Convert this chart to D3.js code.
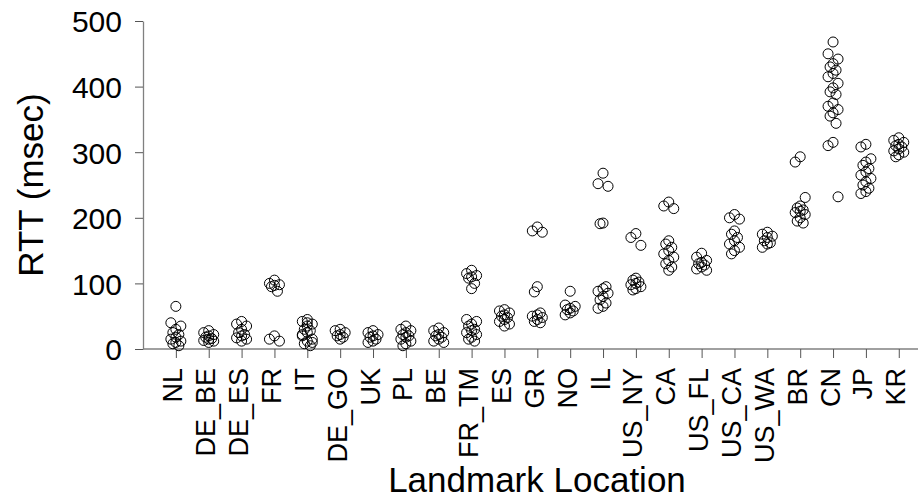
<html>
<head>
<script src="https://cdn.jsdelivr.net/npm/d3@7"></script>
<style>
  body { margin: 0; background: #fff; }
  text { font-family: "Liberation Sans", Arial, sans-serif; fill: #000; }
</style>
</head>
<body>
<div id="chart"></div>
<script>
// landmark locations, left to right
var categories = ["NL", "DE_BE", "DE_ES", "FR", "IT", "DE_GO", "UK", "PL", "BE", "FR_TM", "ES", "GR",
                  "NO", "IL", "US_NY", "CA", "US_FL", "US_CA", "US_WA", "BR", "CN", "JP", "KR"];

// RTT samples (msec) per landmark, same order as categories
var rtt = [
  [65, 40, 35, 30, 25, 22, 18, 15, 12, 10, 8, 5],                       // NL
  [28, 25, 22, 20, 18, 16, 15, 13, 12, 10],                             // DE_BE
  [42, 38, 35, 30, 25, 22, 20, 17, 15, 12],                             // DE_ES
  [105, 100, 98, 97, 95, 88, 20, 15, 12],                               // FR
  [45, 42, 38, 35, 30, 28, 25, 20, 15, 12, 8, 5, 40, 22, 10],           // IT
  [30, 28, 25, 22, 20, 18, 15],                                         // DE_GO
  [28, 25, 22, 20, 18, 15, 12, 10],                                     // UK
  [35, 30, 28, 25, 22, 20, 18, 15, 12, 8, 5],                           // PL
  [32, 28, 25, 22, 20, 18, 15, 12, 10],                                 // BE
  [120, 115, 112, 110, 108, 100, 92, 45, 42, 38, 35, 30, 28, 25, 22, 18, 15, 12], // FR_TM
  [60, 58, 55, 52, 50, 48, 45, 42, 38, 35],                             // ES
  [186, 180, 178, 95, 87, 55, 52, 50, 48, 45, 42, 40],                  // GR
  [88, 67, 65, 62, 60, 58, 55, 52],                                     // NO
  [268, 252, 248, 192, 191, 95, 92, 88, 85, 80, 75, 70, 65, 62],        // IL
  [176, 170, 158, 108, 105, 102, 100, 98, 95, 92, 90],                  // US_NY
  [224, 218, 214, 165, 160, 155, 150, 145, 140, 135, 130, 125, 120],    // CA
  [146, 140, 135, 132, 130, 128, 125, 122, 120],                        // US_FL
  [205, 200, 198, 180, 175, 170, 165, 160, 155, 150, 145],              // US_CA
  [178, 175, 172, 170, 165, 162, 160, 155],                             // US_WA
  [293, 285, 231, 218, 215, 212, 210, 208, 205, 200, 195, 192],         // BR
  [468, 450, 442, 435, 430, 425, 420, 415, 405, 398, 392, 388, 375, 370, 365, 360, 355, 344, 315, 310, 232], // CN
  [312, 308, 290, 285, 280, 275, 270, 265, 260, 255, 250, 245, 240, 237], // JP
  [322, 318, 315, 312, 310, 308, 305, 302, 300, 296, 293]               // KR
];

var yTicks = [0, 100, 200, 300, 400, 500];

var width = 918, height = 498;
var margin = {left: 143, top: 21, bottom: 349};

var svg = d3.select("#chart").append("svg")
    .attr("width", width)
    .attr("height", height);

// x: one slot per landmark, axis runs past the right edge
var x = d3.scalePoint()
    .domain(categories)
    .range([margin.left, margin.left + 24 * 32.86])
    .padding(1);

var y = d3.scaleLinear()
    .domain([0, 500])
    .range([margin.bottom, margin.top]);

// flatten for drawing, small horizontal spread inside each column
var spread = [0, -5, 5, 0, -3, 3];
var points = [];
categories.forEach(function(c, i) {
    rtt[i].forEach(function(v, j) {
        points.push({cat: c, value: v, dx: spread[j % spread.length]});
    });
});

// x axis
var xAxis = svg.append("g")
    .attr("transform", "translate(0," + margin.bottom + ")")
    .call(d3.axisBottom(x).tickSize(9).tickSizeOuter(0));
xAxis.select(".domain").attr("stroke", "#808080").attr("stroke-width", 1.3)
    .attr("d", "M" + margin.left + ",0H" + width);
xAxis.selectAll(".tick line").attr("stroke", "#555");
xAxis.selectAll(".tick text")
    .attr("font-size", 27)
    .attr("text-anchor", "end")
    .attr("transform", "translate(6,19) rotate(-90)")
    .attr("x", 0).attr("y", 0).attr("dy", 0);

// y axis
var yAxis = svg.append("g")
    .attr("transform", "translate(" + margin.left + ",0)")
    .call(d3.axisLeft(y).tickValues(yTicks).tickSize(8).tickPadding(13).tickSizeOuter(0));
yAxis.select(".domain").attr("stroke", "#808080").attr("stroke-width", 1.3);
yAxis.selectAll(".tick line").attr("stroke", "#555");
yAxis.selectAll(".tick text")
    .attr("font-size", 30)
    .attr("dy", "0.36em");

// points
svg.append("g").selectAll("circle")
    .data(points)
    .enter()
    .append("circle")
    .attr("cx", function(d) { return x(d.cat) + d.dx; })
    .attr("cy", function(d) { return y(d.value); })
    .attr("r", 5)
    .attr("fill", "none")
    .attr("stroke", "#000")
    .attr("stroke-width", 1);

// axis titles
svg.append("text")
    .attr("x", 537)
    .attr("y", 492)
    .attr("text-anchor", "middle")
    .attr("font-size", 35)
    .text("Landmark Location");

svg.append("text")
    .attr("transform", "translate(43,185) rotate(-90)")
    .attr("text-anchor", "middle")
    .attr("font-size", 35)
    .text("RTT (msec)");
</script>
</body>
</html>
